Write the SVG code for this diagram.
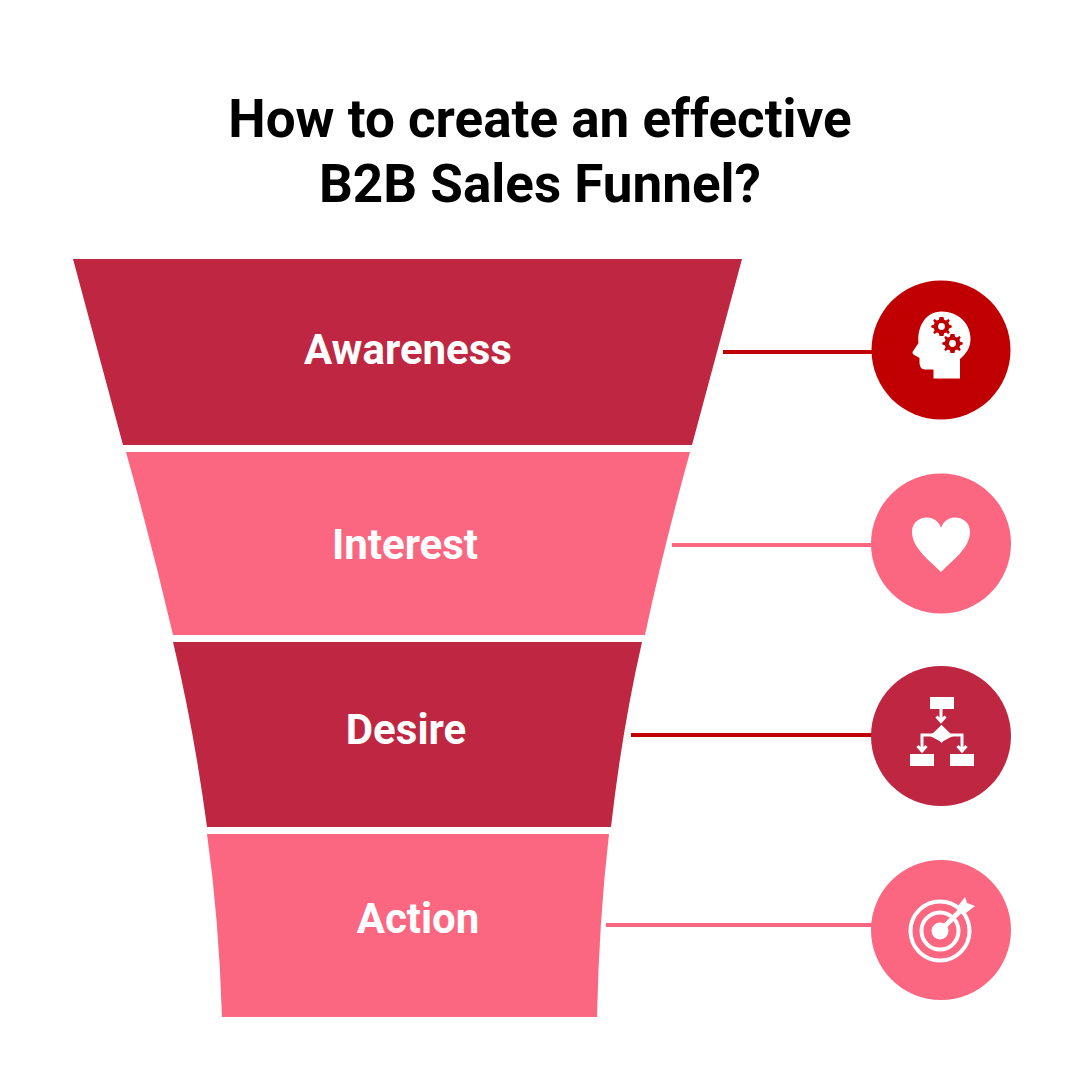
<svg xmlns="http://www.w3.org/2000/svg" width="1080" height="1080" viewBox="0 0 1080 1080">
<style>
.t{font-family:Roboto,"Liberation Sans",sans-serif;font-weight:700;text-anchor:middle}
.title{font-size:53px;fill:#000}
.lab{font-size:42px;fill:#fff}
.dark{fill:#BE2641}.pink{fill:#FB6781}.red{fill:#C00000}
.w{fill:#fff}
.ws{fill:none;stroke:#fff}
.c{fill:none;stroke-width:4}
</style>
<defs>
<g id="gear"><path d="M0-9.5 2-9.5 2.6-6.8 4.6-6 6.9-7.4 8.3-6 6.9-3.7 7.7-1.7 10.2-1 10.2 1 7.7 1.7 6.9 3.7 8.3 6 6.9 7.4 4.6 6 2.6 6.8 2 9.5-2 9.5-2.6 6.8-4.6 6-6.9 7.4-8.3 6-6.9 3.7-7.7 1.7-10.2 1-10.2-1-7.7-1.7-6.9-3.7-8.3-6-6.9-7.4-4.6-6-2.6-6.8-2-9.5Z" class="red"/><circle r="3.4" class="w"/></g>
</defs>
<rect width="1080" height="1080" fill="#fff"/>
<g id="title"><text class="t title" x="540" y="137">How to create an effective</text><text class="t title" x="540" y="202">B2B Sales Funnel?</text></g>
<g id="connectors">
<line class="c" x1="723" y1="352" x2="874" y2="352" stroke="#C00000"/>
<line class="c" x1="672" y1="545" x2="874" y2="545" stroke="#FB6781"/>
<line class="c" x1="631" y1="735" x2="874" y2="735" stroke="#C00000"/>
<line class="c" x1="606" y1="925" x2="874" y2="925" stroke="#FB6781"/>
</g>
<g id="awareness"><path class="dark" d="M73 259H742L692 445H123Z"/><text class="t lab" x="408" y="364">Awareness</text></g>
<g id="interest"><path class="pink" d="M126 452H690Q663 550 645 635H173Q152 545 126 452Z"/><text class="t lab" x="405" y="559">Interest</text></g>
<g id="desire"><path class="dark" d="M173 642H642Q622 730 611 827H207Q194 730 173 642Z"/><text class="t lab" x="406" y="744">Desire</text></g>
<g id="action"><path class="pink" d="M207 834H609Q599 920 597 1017H222Q219 920 207 834Z"/><text class="t lab" x="418" y="933">Action</text></g>
<g id="icon-awareness"><circle class="red" cx="941" cy="350" r="69.5"/>
<path class="w" d="M941.5 311.5C958 311.5 970.5 323 970.5 339C970.5 348 966 354 960 359V378.5H933.5V369.5H925C921 369.5 919.5 366 919.5 362V358L913.5 354.5Q911.5 352.5 913.5 350.5L918.5 343C917 326 926 311.5 941.5 311.5Z"/>
<use href="#gear" x="941.5" y="326.5"/><use href="#gear" x="952.5" y="343.5"/></g>
<g id="icon-interest"><circle class="pink" cx="941" cy="543.5" r="70"/>
<path class="w" d="M941 572C930 561 912 548 912 532C912 522 920 517.500 927 517.500C934 517.500 939 522 941 528C943 522 948 517.500 955 517.500C962 517.500 970 522 970 532C970 548 952 561 941 572Z"/></g>
<g id="icon-desire"><circle class="dark" cx="941" cy="736" r="70"/>
<rect class="w" x="930" y="697" width="24" height="12"/><rect class="w" x="910" y="754" width="24" height="12"/><rect class="w" x="950" y="754" width="24" height="12"/>
<path class="w" d="M941.500 725 953 736 941.500 742 930 736Z" transform="rotate(0)"/><path class="w" d="M941.500 725 949.500 734 941.500 743 933.500 734Z"/>
<path class="ws" stroke-width="3" d="M941 709V720M936.500 716.500 941 721.500 945.500 716.500M935 735H922V749M917.500 746 922 751 926.500 746M948 735H962V749M957.500 746 962 751 966.500 746"/></g>
<g id="icon-action"><circle class="pink" cx="941" cy="930" r="70"/>
<circle class="ws" cx="940" cy="931" r="29.500" stroke-width="4"/><circle class="ws" cx="940" cy="931" r="18.500" stroke-width="4"/><circle class="w" cx="940" cy="931" r="8.500"/>
<path class="ws" stroke-width="5" d="M940 931 965 906"/><path class="w" d="M958 906 965 897 967 903 975 906 966 913 961 912Z"/></g>
</svg>
